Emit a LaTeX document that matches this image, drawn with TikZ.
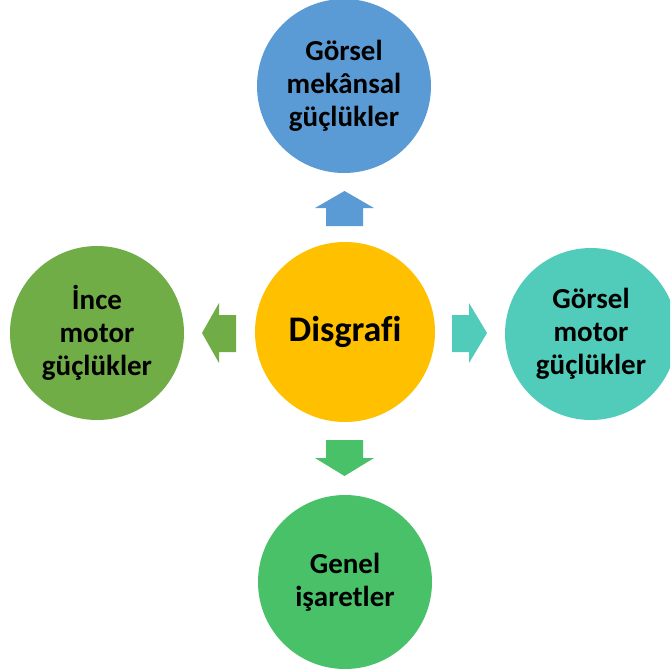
\documentclass[tikz,border=0pt]{standalone}
\usepackage{fontspec}
\setmainfont[Ligatures=NoCommon]{Carlito}
\definecolor{cblue}{RGB}{91,155,213}
\definecolor{cgold}{RGB}{255,192,0}
\definecolor{cteal}{RGB}{82,204,186}
\definecolor{cleaf}{RGB}{112,173,71}
\definecolor{cgreen}{RGB}{73,193,104}
\begin{document}
\begin{tikzpicture}[x=1pt,y=-1pt,
  circ/.style={circle,minimum size=#1,inner sep=0pt,align=center,
    font=\fontsize{29}{33}\selectfont\bfseries,text=black}]
\useasboundingbox (0,0) rectangle (670,672);
\begin{scope}
\clip (0,0) rectangle (670,672);
\fill[cgold] (345,332) circle (90);
\node[circ=180pt] (c) at (345,332) {\fontsize{36}{40}\selectfont Disgrafi};
\fill[cblue] (344,86) circle (87);
\node[circ=174pt] (t) at (344,86) {Görsel\\mekânsal\\güçlükler};
\fill[cteal] (591,334) circle (86);
\node[circ=172pt] (r) at (591,334) {Görsel\\motor\\güçlükler};
\fill[cleaf] (97,333) circle (87);
\node[circ=174pt] (l) at (97,333) {İnce\\motor\\güçlükler};
\fill[cgreen] (345,582) circle (87);
\node[circ=174pt] (b) at (345,582) {Genel\\işaretler};
\end{scope}
% arrows
\fill[cblue] (326,226) -- (326,208) -- (315,208) -- (344.5,191) -- (374,208) -- (363,208) -- (363,226) -- cycle;
\fill[cgreen] (326,440) -- (326,458) -- (315,458) -- (344.5,476) -- (374,458) -- (363,458) -- (363,440) -- cycle;
\fill[cleaf] (236,315) -- (219,315) -- (219,303) -- (202,333) -- (219,363) -- (219,352) -- (236,352) -- cycle;
\fill[cteal] (452,315) -- (469,315) -- (469,303) -- (487,333) -- (469,363) -- (469,352) -- (452,352) -- cycle;
\end{tikzpicture}
\end{document}
